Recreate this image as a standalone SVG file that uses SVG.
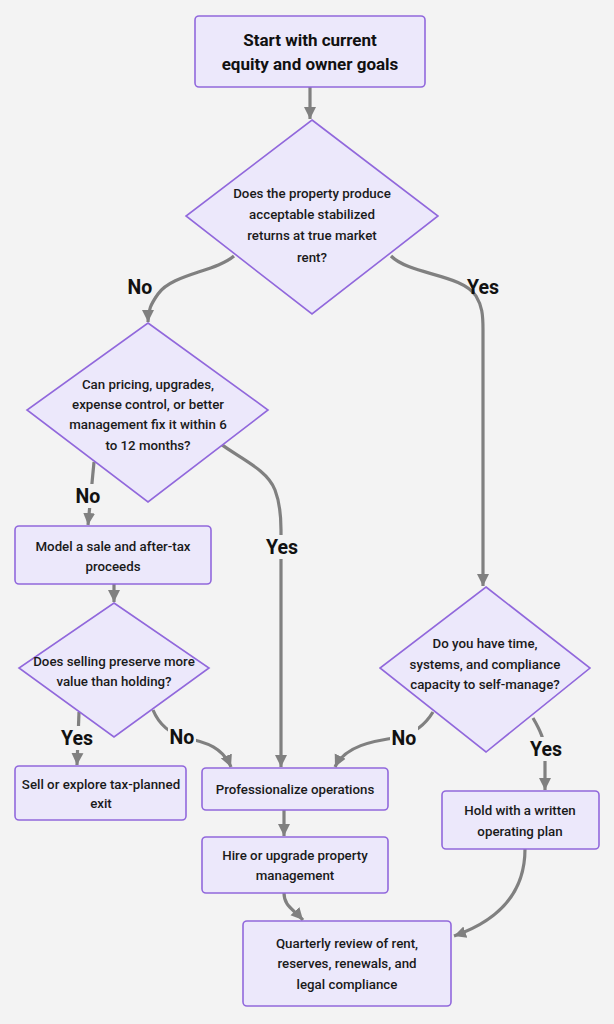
<svg xmlns="http://www.w3.org/2000/svg" width="614" height="1024" viewBox="0 0 614 1024">
<style>
.bg{fill:#f3f3f3}
.node{fill:#ece8fb;stroke:#9168dc;stroke-width:1.6}
.t{font-family:Roboto,"Liberation Sans",sans-serif;font-size:13.3px;font-weight:500;fill:#1a1a1a;text-anchor:middle}
.tb{font-family:Roboto,"Liberation Sans",sans-serif;font-size:17px;font-weight:700;fill:#111;text-anchor:middle}
.lbl{font-family:Roboto,"Liberation Sans",sans-serif;font-size:19.5px;font-weight:700;fill:#111;text-anchor:middle}
.lb{fill:#f3f3f3}
.edge{fill:none;stroke:#808080;stroke-width:3.2;marker-end:url(#ah)}
</style>
<defs>
<marker id="ah" markerUnits="userSpaceOnUse" markerWidth="14" markerHeight="14" refX="12" refY="7" orient="auto">
<path d="M0,1 L12,7 L0,13 z" fill="#808080"/>
</marker>
</defs>
<rect class="bg" x="0" y="0" width="614" height="1024"/>

<g id="connectors">
<path class="edge" d="M234,256 C215,272 172,274 158,294 C151,304 148,310 148,322"/>
<path class="edge" d="M310,87 L310,119"/>
<path class="edge" d="M391,256 C410,275 462,274 476,296 C482,306 483,314 483,330 L483,586"/>
<path class="edge" d="M94,462 L88,525"/>
<path class="edge" d="M207,433 C230,455 266,466 275,490 C280,503 281,515 281,530 L281,767"/>
<path class="edge" d="M114,584 L114,602"/>
<path class="edge" d="M79,712 L77,765"/>
<path class="edge" d="M153,710 C158,722 168,733 185,738 C207,742 223,748 231,767"/>
<path class="edge" d="M433,712 C425,725 415,733 400,737 C372,741 345,746 335,767"/>
<path class="edge" d="M533,718 C540,730 545,740 545,755 L545,790"/>
<path class="edge" d="M284,810 L284,836"/>
<path class="edge" d="M284,893 C284,906 293,909 303,920"/>
<path class="edge" d="M525,849 C525,892 500,920 454,936"/>
<rect class="lb" x="74" y="484" width="28" height="24"/>
<rect class="lb" x="265" y="535" width="34" height="24"/>
<rect class="lb" x="60" y="726" width="34" height="24"/>
<rect class="lb" x="168" y="725" width="28" height="24"/>
<rect class="lb" x="390" y="726" width="28" height="24"/>
<rect class="lb" x="529" y="737" width="34" height="24"/>
<text class="lbl" x="140" y="294">No</text>
<text class="lbl" x="483" y="294">Yes</text>
<text class="lbl" x="88" y="503">No</text>
<text class="lbl" x="282" y="554">Yes</text>
<text class="lbl" x="77" y="745">Yes</text>
<text class="lbl" x="182" y="744">No</text>
<text class="lbl" x="404" y="745">No</text>
<text class="lbl" x="546" y="756">Yes</text>
</g>

<g id="start">
<rect class="node" x="195" y="16" width="230" height="71" rx="4"/>
<text class="tb" x="310" y="46">Start with current</text>
<text class="tb" x="310" y="70">equity and owner goals</text>
</g>

<g id="d1">
<polygon class="node" points="312,120 438,216 312,314 186,216"/>
<text class="t" x="312" y="198">Does the property produce</text>
<text class="t" x="312" y="219">acceptable stabilized</text>
<text class="t" x="312" y="240">returns at true market</text>
<text class="t" x="312" y="262">rent?</text>
</g>

<g id="d2">
<polygon class="node" points="148,323 268,410 148,502 27,410"/>
<text class="t" x="148" y="389">Can pricing, upgrades,</text>
<text class="t" x="148" y="409">expense control, or better</text>
<text class="t" x="148" y="429">management fix it within 6</text>
<text class="t" x="148" y="450">to 12 months?</text>
</g>

<g id="model">
<rect class="node" x="15" y="526" width="196" height="58" rx="4"/>
<text class="t" x="113" y="551">Model a sale and after-tax</text>
<text class="t" x="113" y="571">proceeds</text>
</g>

<g id="d3">
<polygon class="node" points="114,603 209,668 114,737 19,668"/>
<text class="t" x="114" y="666">Does selling preserve more</text>
<text class="t" x="114" y="686">value than holding?</text>
</g>

<g id="sell">
<rect class="node" x="15" y="766" width="171" height="54" rx="4"/>
<text class="t" x="101" y="789">Sell or explore tax-planned</text>
<text class="t" x="101" y="808">exit</text>
</g>

<g id="prof">
<rect class="node" x="202" y="768" width="186" height="42" rx="4"/>
<text class="t" x="295" y="794">Professionalize operations</text>
</g>

<g id="hire">
<rect class="node" x="202" y="837" width="186" height="56" rx="4"/>
<text class="t" x="295" y="860">Hire or upgrade property</text>
<text class="t" x="295" y="880">management</text>
</g>

<g id="d4">
<polygon class="node" points="486,587 590,668 486,752 380,668"/>
<text class="t" x="485" y="648">Do you have time,</text>
<text class="t" x="485" y="669">systems, and compliance</text>
<text class="t" x="485" y="689">capacity to self-manage?</text>
</g>

<g id="hold">
<rect class="node" x="442" y="791" width="157" height="58" rx="4"/>
<text class="t" x="520" y="815">Hold with a written</text>
<text class="t" x="520" y="836">operating plan</text>
</g>

<g id="quarterly">
<rect class="node" x="243" y="921" width="208" height="85" rx="4"/>
<text class="t" x="347" y="948">Quarterly review of rent,</text>
<text class="t" x="347" y="968">reserves, renewals, and</text>
<text class="t" x="347" y="989">legal compliance</text>
</g>
</svg>
